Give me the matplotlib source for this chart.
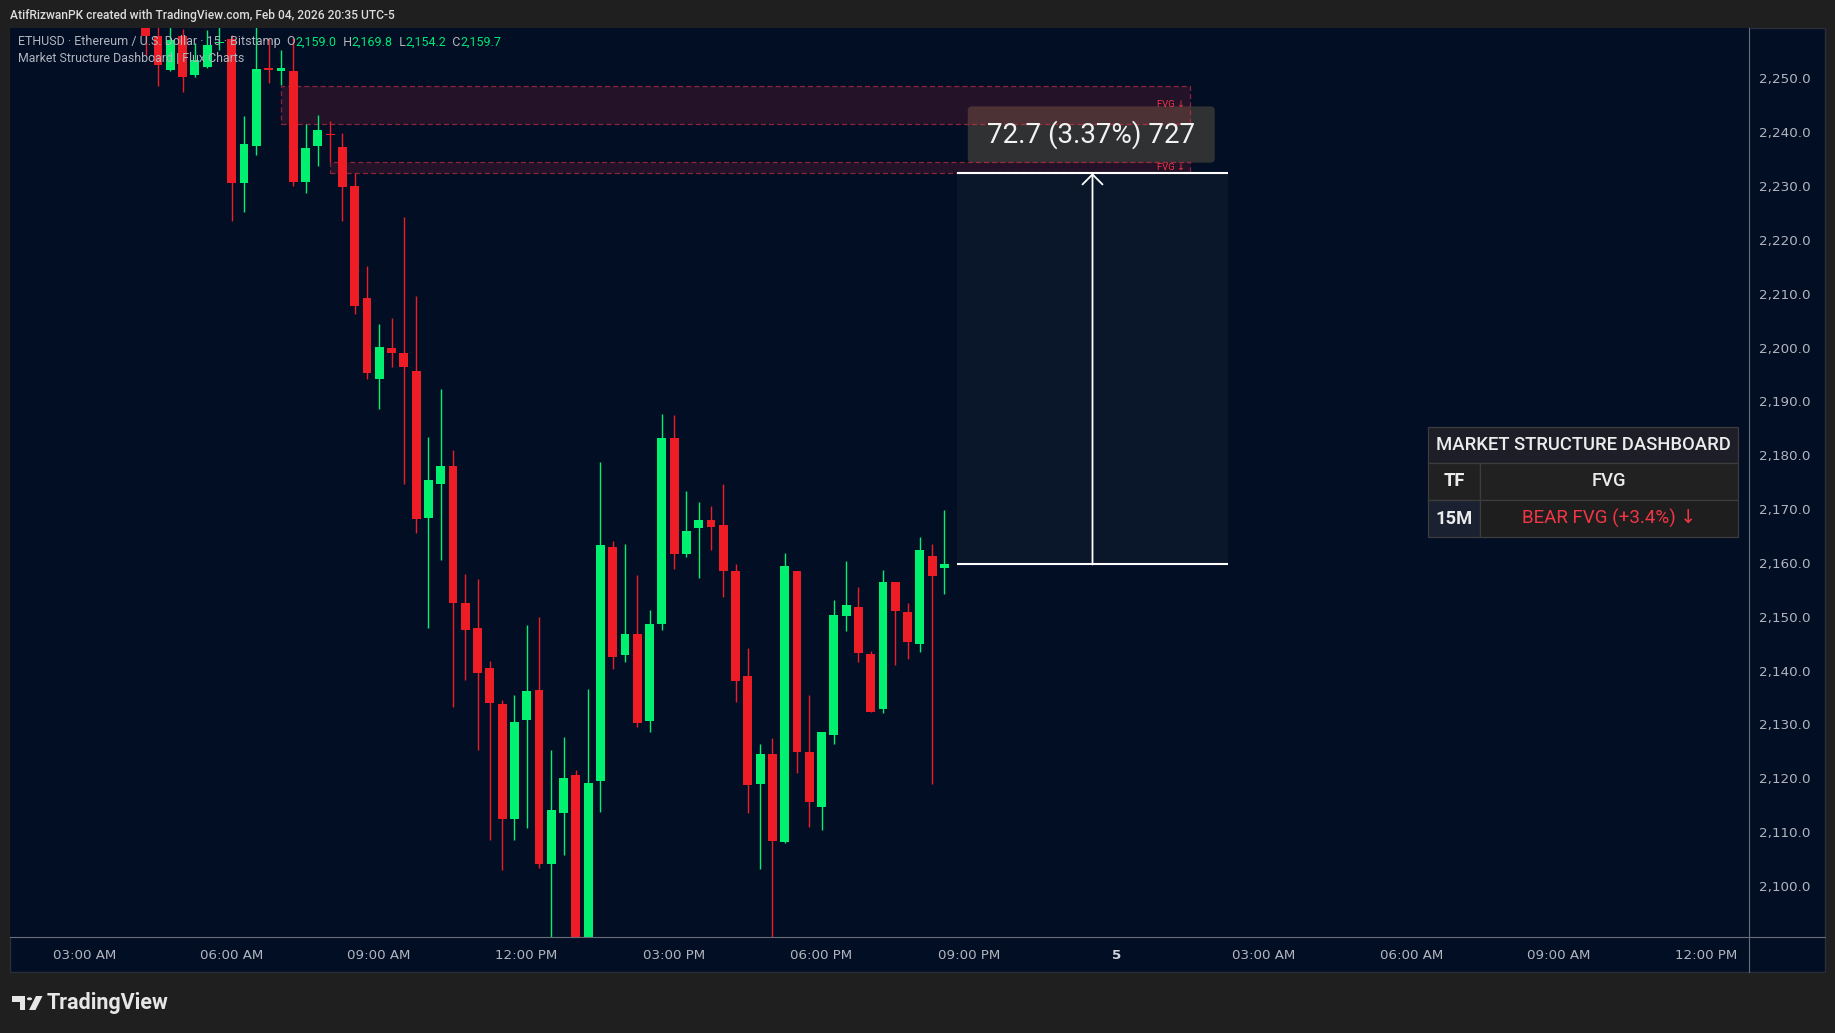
import matplotlib
matplotlib.use("Agg")
import matplotlib.pyplot as plt
from matplotlib.patches import Rectangle, FancyBboxPatch, Polygon, Circle
from matplotlib.lines import Line2D
from matplotlib.ticker import FuncFormatter
import numpy as np

# ---------------- data ----------------
# 15-minute bars, index 0 = 03:00 AM Feb 04
bars = list(range(5, 71))
opens = [2262.0, 2257.9, 2251.6, 2257.9, 2250.6, 2252.2, 2256.5, 2257.3, 2230.6, 2237.5,
         2251.8, 2251.4, 2251.4, 2230.8, 2237.5, 2239.7, 2237.3, 2230.0, 2209.2, 2194.1,
         2199.9, 2199.0, 2195.7, 2168.4, 2174.7, 2178.0, 2152.6, 2147.9, 2140.5, 2133.8,
         2112.5, 2130.9, 2136.4, 2104.0, 2113.5, 2120.6, 2087.5, 2119.4, 2163.0, 2142.9,
         2146.8, 2130.7, 2148.6, 2183.2, 2161.7, 2166.5, 2168.0, 2167.0, 2158.5, 2138.9,
         2119.0, 2124.5, 2108.2, 2158.4, 2124.9, 2114.7, 2128.1, 2150.2, 2151.8, 2143.1,
         2132.9, 2156.5, 2150.9, 2144.9, 2161.3, 2159.0]
highs = [2263.0, 2261.5, 2260.5, 2259.1, 2256.5, 2259.0, 2259.6, 2258.1, 2243.0, 2261.0,
         2257.5, 2255.3, 2257.5, 2241.5, 2243.2, 2242.0, 2239.8, 2232.4, 2215.2, 2204.4,
         2205.5, 2224.3, 2209.6, 2183.4, 2192.3, 2181.0, 2158.0, 2157.0, 2141.8, 2134.6,
         2135.5, 2148.5, 2150.0, 2125.3, 2127.7, 2121.6, 2136.6, 2178.8, 2164.1, 2163.5,
         2157.8, 2151.3, 2187.7, 2187.5, 2173.4, 2171.3, 2170.6, 2174.7, 2159.8, 2144.2,
         2126.4, 2127.5, 2161.9, 2158.4, 2135.5, 2128.6, 2153.1, 2160.4, 2155.5, 2143.6,
         2158.7, 2156.5, 2152.6, 2164.8, 2163.5, 2169.8]
lows = [2254.3, 2248.6, 2251.3, 2247.4, 2250.3, 2252.0, 2255.3, 2223.6, 2225.1, 2235.7,
        2249.1, 2248.7, 2230.1, 2228.7, 2233.8, 2234.4, 2223.6, 2206.2, 2194.2, 2188.5,
        2196.3, 2174.7, 2165.5, 2147.9, 2160.5, 2133.2, 2138.3, 2125.2, 2108.6, 2103.0,
        2108.6, 2110.8, 2103.4, 2088.0, 2105.7, 2084.0, 2085.0, 2113.8, 2140.2, 2141.5,
        2129.5, 2128.5, 2147.6, 2158.9, 2161.0, 2157.2, 2162.4, 2153.7, 2134.2, 2113.6,
        2103.2, 2089.0, 2108.0, 2121.0, 2111.0, 2110.4, 2126.4, 2147.4, 2141.6, 2132.3,
        2132.2, 2141.1, 2142.2, 2143.5, 2119.0, 2154.2]
closes = [2257.9, 2252.4, 2257.1, 2250.3, 2253.4, 2256.2, 2256.8, 2230.6, 2237.8, 2251.8,
          2251.6, 2251.9, 2230.8, 2237.1, 2240.4, 2239.4, 2229.9, 2207.8, 2195.2, 2200.1,
          2198.9, 2196.3, 2168.2, 2175.4, 2178.0, 2152.5, 2147.6, 2139.6, 2133.9, 2112.5,
          2130.5, 2136.2, 2104.0, 2114.0, 2120.0, 2087.0, 2119.2, 2163.3, 2142.6, 2146.8,
          2130.3, 2148.7, 2183.2, 2161.6, 2166.0, 2168.0, 2166.7, 2158.5, 2138.1, 2118.8,
          2124.5, 2108.3, 2159.4, 2124.9, 2115.6, 2128.6, 2150.4, 2152.2, 2143.3, 2132.3,
          2156.5, 2151.1, 2145.3, 2162.3, 2157.6, 2159.7]

price_ticks = [2100, 2110, 2120, 2130, 2140, 2150, 2160, 2170, 2180, 2190,
               2200, 2210, 2220, 2230, 2240, 2250]
time_tick_pos = [0, 12, 24, 36, 48, 60, 72, 84, 96, 108, 120, 132]
time_tick_labels = ["03:00 AM", "06:00 AM", "09:00 AM", "12:00 PM", "03:00 PM", "06:00 PM",
                    "09:00 PM", "5", "03:00 AM", "06:00 AM", "09:00 AM", "12:00 PM"]

fvg_start = [16, 20]
fvg_top = [2248.65, 2234.4]
fvg_bottom = [2241.5, 2232.37]
fvg_end = 90

measure_low = 2159.7
measure_high = 2232.4
measure_bars = [71.05, 93.05]

dash_title = "MARKET STRUCTURE DASHBOARD"
dash_cols = ["TF", "FVG"]
dash_row = ["15M", "BEAR FVG (+3.4%) \u2193"]

# ---------------- style ----------------
W, H, DPI = 1835, 1033, 100
BG = '#010e24'
OUTER = '#1f1f1f'
GREEN = '#00f070'
RED = '#ee1c25'
FVG_RED = '#f23645'
AXIS_TXT = '#b2b5be'
SEP = '#6a6d78'

plt.rcParams['font.family'] = ['DejaVu Sans']

fig = plt.figure(figsize=(W / DPI, H / DPI), dpi=DPI, facecolor=OUTER)


def fb(x0, y0, x1, y1):
    return [x0 / W, 1 - y1 / H, (x1 - x0) / W, (y1 - y0) / H]


def fp(x, y):
    return (x / W, 1 - y / H)


# chart panel background (plot + axis strips)
fig.add_artist(Rectangle(fp(10, 972), (1825 - 10) / W, (972 - 28) / H, transform=fig.transFigure,
                         facecolor=BG, edgecolor='#2a2e39', lw=1.0, zorder=-1))

ax = fig.add_axes(fb(10, 28, 1749, 937))
ax.set_facecolor(BG)
for s in ax.spines.values():
    s.set_visible(False)
ax.set_xlim(-6.05, 135.48)
ax.set_ylim(2090.5, 2259.36)

# price axis
ax.set_yticks(price_ticks)
ax.yaxis.tick_right()
ax.yaxis.set_major_formatter(FuncFormatter(lambda v, p: f"{v:,.1f}"))
ax.tick_params(axis='y', length=0, pad=7, labelsize=9.7, labelcolor=AXIS_TXT)

# time axis
ax.set_xticks(time_tick_pos)
ax.set_xticklabels(time_tick_labels)
ax.tick_params(axis='x', length=0, pad=8.5, labelsize=9.6, labelcolor=AXIS_TXT)
for lab in ax.get_xticklabels():
    if lab.get_text() == "5":
        lab.set_fontweight('bold')
        lab.set_color('#d1d4dc')

# separators
fig.add_artist(Line2D([1749 / W, 1749 / W], [1 - 28 / H, 1 - 972 / H], color=SEP, lw=0.8,
                      transform=fig.transFigure, zorder=2))
fig.add_artist(Line2D([10 / W, 1825 / W], [1 - 937 / H, 1 - 937 / H], color=SEP, lw=0.8,
                      transform=fig.transFigure, zorder=2))

# ---------------- measure tool ----------------
mx0, mx1 = measure_bars
mmid = (mx0 + mx1) / 2
ax.add_patch(Rectangle((mx0, measure_low), mx1 - mx0, measure_high - measure_low,
                       facecolor='#0a1629', edgecolor='none', zorder=1))
diff = measure_high - measure_low
pct = diff / measure_low * 100
ticks = int(round(diff * 10))
lbl_y0 = measure_high + 1.95
lbl_y1 = lbl_y0 + 10.45
ax.add_patch(FancyBboxPatch((71.9, lbl_y0), 92.0 - 71.9, lbl_y1 - lbl_y0,
                            boxstyle='round,pad=0,rounding_size=0.35', mutation_aspect=2.28,
                            facecolor='#353535', edgecolor='none', alpha=0.92, zorder=2))
ax.text(mmid - 0.1, (lbl_y0 + lbl_y1) / 2, f"{diff:.1f} ({pct:.2f}%) {ticks}", ha='center',
        va='center', fontsize=20, color='#f2f2f2', family=['Roboto', 'DejaVu Sans'], zorder=10)

# ---------------- FVG boxes ----------------
for s, t, b in zip(fvg_start, fvg_top, fvg_bottom):
    ax.add_patch(Rectangle((s, b), fvg_end - s, t - b, facecolor=(0.949, 0.212, 0.271, 0.15),
                           edgecolor=(0.949, 0.212, 0.271, 0.55), linestyle=(0, (4, 2.5)),
                           lw=0.9, zorder=3))
    ax.text(fvg_end - 0.45, (t + b) / 2, "FVG \u2193", ha='right', va='center', fontsize=6.8,
            color=FVG_RED, family=['Roboto', 'DejaVu Sans'], zorder=9)

# ---------------- candles ----------------
xs = np.array(bars)
o = np.array(opens)
h = np.array(highs)
l = np.array(lows)
c = np.array(closes)
cols = np.where(c >= o, GREEN, RED)
ax.vlines(xs, l, h, colors=cols, lw=1.0, zorder=4)
ax.bar(xs, np.maximum(np.abs(c - o), 0.25), bottom=np.minimum(o, c), width=0.72,
       color=cols, linewidth=0, zorder=5)

# measure lines and arrow (on top)
ax.hlines([measure_low, measure_high], mx0, mx1, colors='white', lw=1.5, zorder=6)
ax.annotate('', xy=(mmid, measure_high), xytext=(mmid, measure_low),
            arrowprops=dict(arrowstyle='->,head_length=0.72,head_width=0.72', color='white',
                            lw=1.3, shrinkA=0, shrinkB=0), zorder=6)

# ---------------- texts: header, legend ----------------
fig.text(10 / W, 1 - 15 / H, "AtifRizwanPK created with TradingView.com, Feb 04, 2026 20:35 UTC-5",
         ha='left', va='center', fontsize=8.65, color='#dcdcdc', family='Roboto', weight='medium')

renderer = fig.canvas.get_renderer()


def seq_text(x_px, y_px, parts, size):
    x = x_px
    for s, col in parts:
        t = fig.text(x / W, 1 - y_px / H, s, ha='left', va='center', fontsize=size, color=col,
                     family='Roboto', zorder=20)
        bb = t.get_window_extent(renderer)
        x += bb.width


GRAY = '#b2b5be'
LG = '#00e676'
seq_text(18, 42, [("ETHUSD \u00b7 Ethereum / U.S. Dollar \u00b7 15 \u00b7 Bitstamp  O", GRAY),
                  ("2,159.0", LG), ("  H", GRAY), ("2,169.8", LG), ("  L", GRAY), ("2,154.2", LG),
                  ("  C", GRAY), ("2,159.7", LG)], 9.0)
seq_text(18, 58.5, [("Market Structure Dashboard | Flux Charts", GRAY)], 8.9)

# ---------------- dashboard table ----------------
tx0, txm, tx1 = 1428, 1480, 1738
ty = [427, 463, 500, 537]
cells = [
    (tx0, ty[0], tx1, ty[1], '#1d1e27'),
    (tx0, ty[1], txm, ty[2], '#212121'),
    (txm, ty[1], tx1, ty[2], '#212121'),
    (tx0, ty[2], txm, ty[3], '#1a2130'),
    (txm, ty[2], tx1, ty[3], '#1e1e1e'),
]
for x0, y0, x1, y1, fc in cells:
    fig.add_artist(Rectangle(fp(x0, y1), (x1 - x0) / W, (y1 - y0) / H, transform=fig.transFigure,
                             facecolor=fc, edgecolor='#3d3d3d', lw=0.9, zorder=5))
TF = dict(family=['Roboto', 'DejaVu Sans'], zorder=6, ha='center', va='center')
fig.text(*fp((tx0 + tx1) / 2, (ty[0] + ty[1]) / 2), dash_title, fontsize=13.3, color='#ececec',
         weight='medium', **TF)
fig.text(*fp((tx0 + txm) / 2, (ty[1] + ty[2]) / 2), dash_cols[0], fontsize=13.2, color='#ececec',
         weight='bold', **TF)
fig.text(*fp((txm + tx1) / 2, (ty[1] + ty[2]) / 2), dash_cols[1], fontsize=13.2, color='#ececec',
         weight='medium', **TF)
fig.text(*fp((tx0 + txm) / 2, (ty[2] + ty[3]) / 2), dash_row[0], fontsize=13.2, color='#ececec',
         weight='bold', **TF)
fig.text(*fp((txm + tx1) / 2, (ty[2] + ty[3]) / 2), dash_row[1], fontsize=13.5, color=FVG_RED,
         **TF)

# ---------------- footer logo ----------------
LOGO = '#e6e6e6'
fig.add_artist(Polygon([fp(12, 996), fp(25, 996), fp(25, 1010), fp(19.5, 1010), fp(19.5, 1001.5),
                        fp(12, 1001.5)], closed=True, transform=fig.transFigure, facecolor=LOGO,
                       edgecolor='none', zorder=5))
fig.add_artist(Circle(fp(29.5, 998.8), 2.6 / W, transform=fig.transFigure, facecolor=LOGO,
                      edgecolor='none', zorder=5))
fig.add_artist(Polygon([fp(36, 996), fp(42.5, 996), fp(35.5, 1010), fp(29, 1010)], closed=True,
                       transform=fig.transFigure, facecolor=LOGO, edgecolor='none', zorder=5))
fig.text(47 / W, 1 - 1003 / H, "TradingView", ha='left', va='center', fontsize=15.5,
         color=LOGO, family='Roboto', weight='bold')

fig.savefig('out.png', dpi=DPI, facecolor=OUTER)
